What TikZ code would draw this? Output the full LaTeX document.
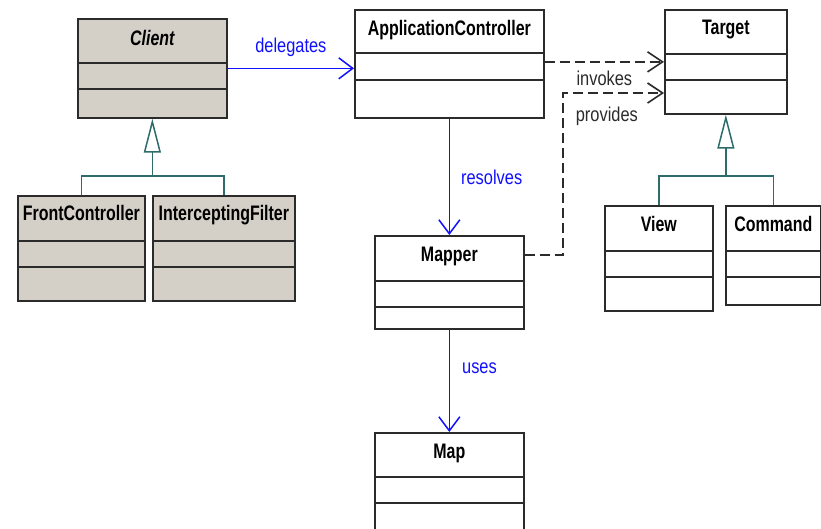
\documentclass[tikz,border=0pt]{standalone}
\usepackage{fontspec}
\setmainfont{Liberation Sans}
\newfontface\titlefont[FakeStretch=0.76]{Liberation Sans Bold}
\newfontface\titleitfont[FakeStretch=0.76]{Liberation Sans Bold Italic}
\newfontface\lblfont[FakeStretch=0.82]{Liberation Sans}
\usetikzlibrary{arrows.meta,calc}
\definecolor{boxgray}{HTML}{D4D0C8}
\definecolor{edgecol}{HTML}{2B2B2B}
\definecolor{gencol}{HTML}{2E6B6B}
\definecolor{depblue}{HTML}{1010FF}
\newcommand\classdivs[3]{%
  \draw[divline] ($(#1.north west)+(0,#2)$) -- ($(#1.north east)+(0,#2)$);
  \draw[divline] ($(#1.north west)+(0,#3)$) -- ($(#1.north east)+(0,#3)$);}
\begin{document}
\begin{tikzpicture}[x=1pt,y=-1pt,
  classbox/.style={draw=edgecol, line width=1.7pt, inner sep=0pt, anchor=north west, fill=white},
  grayclass/.style={classbox, fill=boxgray},
  divline/.style={draw=edgecol, line width=1.7pt},
  ctitle/.style={anchor=base, inner sep=0pt, text=black, font=\titlefont\fontsize{21}{24}\selectfont},
  lbl/.style={inner sep=0pt, font=\lblfont\fontsize{20}{23}\selectfont},
  dep/.style={draw=depblue, line width=1.6pt, -{Straight Barb[length=14pt,width=21pt,line width=1.5pt]}},
  dashdep/.style={draw=edgecol, line width=1.7pt, dash pattern=on 10pt off 5pt, -{Straight Barb[length=15pt,width=20pt,line width=1.6pt]}},
  gen/.style={draw=gencol, line width=1.5pt},
  genarrow/.style={-{Triangle[open, length=34pt, width=17pt, fill=white, line width=1.5pt]}}
]
\clip (0,0) rectangle (821,528);
\fill[white] (0,0) rectangle (821,528);

% classes
\node[grayclass, minimum width=149pt, minimum height=99pt] (client) at (77,18) {};
\classdivs{client}{45}{71}
\node[ctitle, font=\titleitfont\fontsize{21}{24}\selectfont] (clientT) at ($(client.north)+(0,27)$) {Client};

\node[classbox, minimum width=189pt, minimum height=108pt] (ac) at (354,9) {};
\classdivs{ac}{44}{71}
\node[ctitle] (acT) at ($(ac.north)+(0,26)$) {ApplicationController};

\node[classbox, minimum width=122pt, minimum height=104pt] (target) at (664,9) {};
\classdivs{target}{45}{71}
\node[ctitle] (targetT) at ($(target.north)+(0,25)$) {Target};

\node[grayclass, minimum width=127pt, minimum height=105pt] (fc) at (17,195) {};
\classdivs{fc}{46}{72}
\node[ctitle] (fcT) at ($(fc.north)+(0,25)$) {FrontController};

\node[grayclass, minimum width=142pt, minimum height=105pt] (if) at (152,195) {};
\classdivs{if}{46}{72}
\node[ctitle] (ifT) at ($(if.north)+(0,25)$) {InterceptingFilter};

\node[classbox, minimum width=108pt, minimum height=105pt] (view) at (604,205) {};
\classdivs{view}{46}{72}
\node[ctitle] (viewT) at ($(view.north)+(0,26)$) {View};

\node[classbox, minimum width=95pt, minimum height=99pt] (command) at (725,205) {};
\classdivs{command}{46}{72}
\node[ctitle] (commandT) at ($(command.north)+(0,26)$) {Command};

\node[classbox, minimum width=149pt, minimum height=93pt] (mapper) at (374,235) {};
\classdivs{mapper}{46}{72}
\node[ctitle] (mapperT) at ($(mapper.north)+(0,26)$) {Mapper};

\node[classbox, minimum width=149pt, minimum height=120pt] (map) at (374,432) {};
\classdivs{map}{45}{71}
\node[ctitle] (mapT) at ($(map.north)+(0,26)$) {Map};

% dependencies
\draw[dep] (client.east) -- node[lbl, text=depblue, anchor=base, yshift=16pt] {delegates} (ac.west |- client.east);
\draw[dep] (ac.south) -- node[lbl, text=depblue, right=11pt] {resolves} (mapper.north);
\draw[dep] (mapper.south) -- node[lbl, text=depblue, right=12pt, pos=0.38] {uses} (map.north);

\draw[dashdep] (ac.east |- target.west) -- node[lbl, text=edgecol, below=8pt] {invokes} (target.west);
\coordinate (mapperOut) at ($(mapper.north east)+(0,20)$);
\coordinate (provCorner) at (563,93);
\draw[dashdep] (mapperOut) -| (provCorner) -- node[lbl, text=edgecol, anchor=north west, pos=0, xshift=12pt, yshift=-13pt] {provides} (target.west |- provCorner);

% generalizations
\coordinate (gj1) at (client.south |- 0,176);
\draw[gen] (fc.north) |- (gj1) -| (if.north);
\draw[gen, genarrow] (gj1) -- (client.south);
\coordinate (gj2) at (target.south |- 0,176);
\draw[gen] (view.north) |- (gj2) -| (command.north);
\draw[gen, genarrow] (gj2) -- (target.south);
\end{tikzpicture}
\end{document}
